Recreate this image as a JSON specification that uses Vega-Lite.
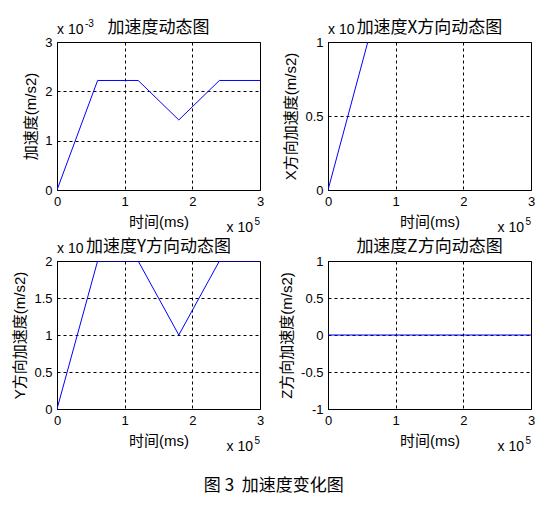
{
  "$schema": "https://vega.github.io/schema/vega-lite/v6.json",
  "background": "white",
  "padding": {"left": 12, "top": 18, "right": 5, "bottom": 5},
  "datasets": {
    "acc": [
      {"t": 0, "total": 0, "ax": 0, "ay": 0, "az": 0},
      {"t": 60000, "total": 0.00222, "ax": 0.00102, "ay": 0.002, "az": 0},
      {"t": 120000, "total": 0.00222, "ax": 0.00102, "ay": 0.002, "az": 0},
      {"t": 180000, "total": 0.00142, "ax": 0.00102, "ay": 0.001, "az": 0},
      {"t": 240000, "total": 0.00222, "ax": 0.00102, "ay": 0.002, "az": 0},
      {"t": 300000, "total": 0.00222, "ax": 0.00102, "ay": 0.002, "az": 0}
    ]
  },
  "title": {
    "text": "图 3\u00a0\u00a0加速度变化图",
    "orient": "bottom",
    "anchor": "middle",
    "font": "Noto Sans CJK SC",
    "fontSize": 17,
    "fontWeight": "normal",
    "color": "black",
    "offset": 23
  },
  "columns": 2,
  "spacing": {"row": 71, "column": 68},
  "bounds": "flush",
  "concat": [
    {
      "width": 203,
      "height": 148,
      "data": {"name": "acc"},
      "resolve": {"axis": {"x": "independent", "y": "independent"}},
      "layer": [
        {
          "mark": {"type": "line", "color": "#0000ff", "strokeWidth": 1, "clip": true},
          "encoding": {
            "x": {"field": "t", "type": "quantitative", "scale": {"domain": [0, 300000], "nice": false},
              "axis": {"title": "时间(ms)", "values": [0, 100000, 200000, 300000], "tickCount": 10, "labelExpr": "datum.value / 100000"}},
            "y": {"field": "total", "type": "quantitative", "scale": {"domain": [0, 0.003], "nice": false, "zero": false},
              "axis": {"title": "加速度(m/s2)", "values": [0, 0.001, 0.002, 0.003], "tickCount": 10, "labelExpr": "round(datum.value * 1000)"}}
          }
        },
        {
          "data": {"values": [{}]},
          "mark": {"type": "text", "text": "加速度动态图", "align": "center", "baseline": "alphabetic", "dy": -9, "fontSize": 17, "font": "Noto Sans CJK SC"},
          "encoding": {"x": {"datum": 150000, "axis": null}, "y": {"datum": 0.003, "axis": null}}
        },
        {
          "data": {"values": [{}]},
          "mark": {"type": "text", "text": "x 10", "align": "left", "baseline": "alphabetic", "dy": -8, "fontSize": 14, "font": "Liberation Sans"},
          "encoding": {"x": {"datum": 0, "axis": null}, "y": {"datum": 0.003, "axis": null}}
        },
        {
          "data": {"values": [{}]},
          "mark": {"type": "text", "text": "-3", "align": "left", "baseline": "alphabetic", "dx": 28, "dy": -15, "fontSize": 10, "font": "Liberation Sans"},
          "encoding": {"x": {"datum": 0, "axis": null}, "y": {"datum": 0.003, "axis": null}}
        },
        {
          "data": {"values": [{}]},
          "mark": {"type": "text", "text": "x 10", "align": "right", "baseline": "alphabetic", "dx": -7, "dy": 42, "fontSize": 14, "font": "Liberation Sans"},
          "encoding": {"x": {"datum": 300000, "axis": null}, "y": {"datum": 0, "axis": null}}
        },
        {
          "data": {"values": [{}]},
          "mark": {"type": "text", "text": "5", "align": "right", "baseline": "alphabetic", "dx": 0, "dy": 35, "fontSize": 10, "font": "Liberation Sans"},
          "encoding": {"x": {"datum": 300000, "axis": null}, "y": {"datum": 0, "axis": null}}
        }
      ]
    },
    {
      "width": 203,
      "height": 148,
      "data": {"name": "acc"},
      "resolve": {"axis": {"x": "independent", "y": "independent"}},
      "layer": [
        {
          "mark": {"type": "line", "color": "#0000ff", "strokeWidth": 1, "clip": true},
          "encoding": {
            "x": {"field": "t", "type": "quantitative", "scale": {"domain": [0, 300000], "nice": false},
              "axis": {"title": "时间(ms)", "values": [0, 100000, 200000, 300000], "tickCount": 10, "labelExpr": "datum.value / 100000"}},
            "y": {"field": "ax", "type": "quantitative", "scale": {"domain": [0, 0.001], "nice": false, "zero": false},
              "axis": {"title": "X方向加速度(m/s2)", "values": [0, 0.0005, 0.001], "tickCount": 10, "labelExpr": "round(datum.value * 10000) / 10"}}
          }
        },
        {
          "data": {"values": [{}]},
          "mark": {"type": "text", "text": "x 10", "align": "left", "baseline": "alphabetic", "dy": -8, "fontSize": 14, "font": "Liberation Sans"},
          "encoding": {"x": {"datum": 0, "axis": null}, "y": {"datum": 0.001, "axis": null}}
        },
        {
          "data": {"values": [{}]},
          "mark": {"type": "text", "text": "加速度X方向动态图", "align": "center", "baseline": "alphabetic", "dy": -9, "fontSize": 17, "font": "Noto Sans CJK SC"},
          "encoding": {"x": {"datum": 150000, "axis": null}, "y": {"datum": 0.001, "axis": null}}
        },
        {
          "data": {"values": [{}]},
          "mark": {"type": "text", "text": "x 10", "align": "right", "baseline": "alphabetic", "dx": -7, "dy": 42, "fontSize": 14, "font": "Liberation Sans"},
          "encoding": {"x": {"datum": 300000, "axis": null}, "y": {"datum": 0, "axis": null}}
        },
        {
          "data": {"values": [{}]},
          "mark": {"type": "text", "text": "5", "align": "right", "baseline": "alphabetic", "dx": 0, "dy": 35, "fontSize": 10, "font": "Liberation Sans"},
          "encoding": {"x": {"datum": 300000, "axis": null}, "y": {"datum": 0, "axis": null}}
        }
      ]
    },
    {
      "width": 203,
      "height": 148,
      "data": {"name": "acc"},
      "resolve": {"axis": {"x": "independent", "y": "independent"}},
      "layer": [
        {
          "mark": {"type": "line", "color": "#0000ff", "strokeWidth": 1, "clip": true},
          "encoding": {
            "x": {"field": "t", "type": "quantitative", "scale": {"domain": [0, 300000], "nice": false},
              "axis": {"title": "时间(ms)", "values": [0, 100000, 200000, 300000], "tickCount": 10, "labelExpr": "datum.value / 100000"}},
            "y": {"field": "ay", "type": "quantitative", "scale": {"domain": [0, 0.002], "nice": false, "zero": false},
              "axis": {"title": "Y方向加速度(m/s2)", "values": [0, 0.0005, 0.001, 0.0015, 0.002], "tickCount": 10, "labelOverlap": false, "labelExpr": "round(datum.value * 10000) / 10"}}
          }
        },
        {
          "data": {"values": [{}]},
          "mark": {"type": "text", "text": "x 10", "align": "left", "baseline": "alphabetic", "dy": -8, "fontSize": 14, "font": "Liberation Sans"},
          "encoding": {"x": {"datum": 0, "axis": null}, "y": {"datum": 0.002, "axis": null}}
        },
        {
          "data": {"values": [{}]},
          "mark": {"type": "text", "text": "加速度Y方向动态图", "align": "center", "baseline": "alphabetic", "dy": -9, "fontSize": 17, "font": "Noto Sans CJK SC"},
          "encoding": {"x": {"datum": 150000, "axis": null}, "y": {"datum": 0.002, "axis": null}}
        },
        {
          "data": {"values": [{}]},
          "mark": {"type": "text", "text": "x 10", "align": "right", "baseline": "alphabetic", "dx": -7, "dy": 42, "fontSize": 14, "font": "Liberation Sans"},
          "encoding": {"x": {"datum": 300000, "axis": null}, "y": {"datum": 0, "axis": null}}
        },
        {
          "data": {"values": [{}]},
          "mark": {"type": "text", "text": "5", "align": "right", "baseline": "alphabetic", "dx": 0, "dy": 35, "fontSize": 10, "font": "Liberation Sans"},
          "encoding": {"x": {"datum": 300000, "axis": null}, "y": {"datum": 0, "axis": null}}
        }
      ]
    },
    {
      "width": 203,
      "height": 148,
      "data": {"name": "acc"},
      "resolve": {"axis": {"x": "independent", "y": "independent"}},
      "layer": [
        {
          "mark": {"type": "line", "color": "#0000ff", "strokeWidth": 1, "clip": true},
          "encoding": {
            "x": {"field": "t", "type": "quantitative", "scale": {"domain": [0, 300000], "nice": false},
              "axis": {"title": "时间(ms)", "values": [0, 100000, 200000, 300000], "tickCount": 10, "labelExpr": "datum.value / 100000"}},
            "y": {"field": "az", "type": "quantitative", "scale": {"domain": [-1, 1], "nice": false, "zero": false},
              "axis": {"title": "Z方向加速度(m/s2)", "values": [-1, -0.5, 0, 0.5, 1], "tickCount": 10, "labelOverlap": false, "labelExpr": "datum.value"}}
          }
        },
        {
          "data": {"values": [{}]},
          "mark": {"type": "text", "text": "加速度Z方向动态图", "align": "center", "baseline": "alphabetic", "dy": -9, "fontSize": 17, "font": "Noto Sans CJK SC"},
          "encoding": {"x": {"datum": 150000, "axis": null}, "y": {"datum": 1, "axis": null}}
        },
        {
          "data": {"values": [{}]},
          "mark": {"type": "text", "text": "x 10", "align": "right", "baseline": "alphabetic", "dx": -7, "dy": 42, "fontSize": 14, "font": "Liberation Sans"},
          "encoding": {"x": {"datum": 300000, "axis": null}, "y": {"datum": -1, "axis": null}}
        },
        {
          "data": {"values": [{}]},
          "mark": {"type": "text", "text": "5", "align": "right", "baseline": "alphabetic", "dx": 0, "dy": 35, "fontSize": 10, "font": "Liberation Sans"},
          "encoding": {"x": {"datum": 300000, "axis": null}, "y": {"datum": -1, "axis": null}}
        }
      ]
    }
  ],
  "config": {
    "font": "Liberation Sans, Noto Sans CJK SC",
    "view": {"stroke": "black", "strokeWidth": 1},
    "text": {"color": "black"},
    "axis": {
      "grid": true,
      "gridColor": "black",
      "gridDash": [3, 3],
      "gridOpacity": 1,
      "gridWidth": 1,
      "ticks": false,
      "tickSize": 0,
      "tickCount": 10,
      "domainColor": "black",
      "labelColor": "black",
      "labelFont": "Liberation Sans",
      "labelFontSize": 13,
      "labelPadding": 5,
      "labelFlush": false,
      "labelOverlap": false,
      "titleFont": "Liberation Sans, Noto Sans CJK SC",
      "titleFontSize": 15,
      "titleFontWeight": "normal",
      "titleColor": "black",
      "titlePadding": 6
    }
  }
}
